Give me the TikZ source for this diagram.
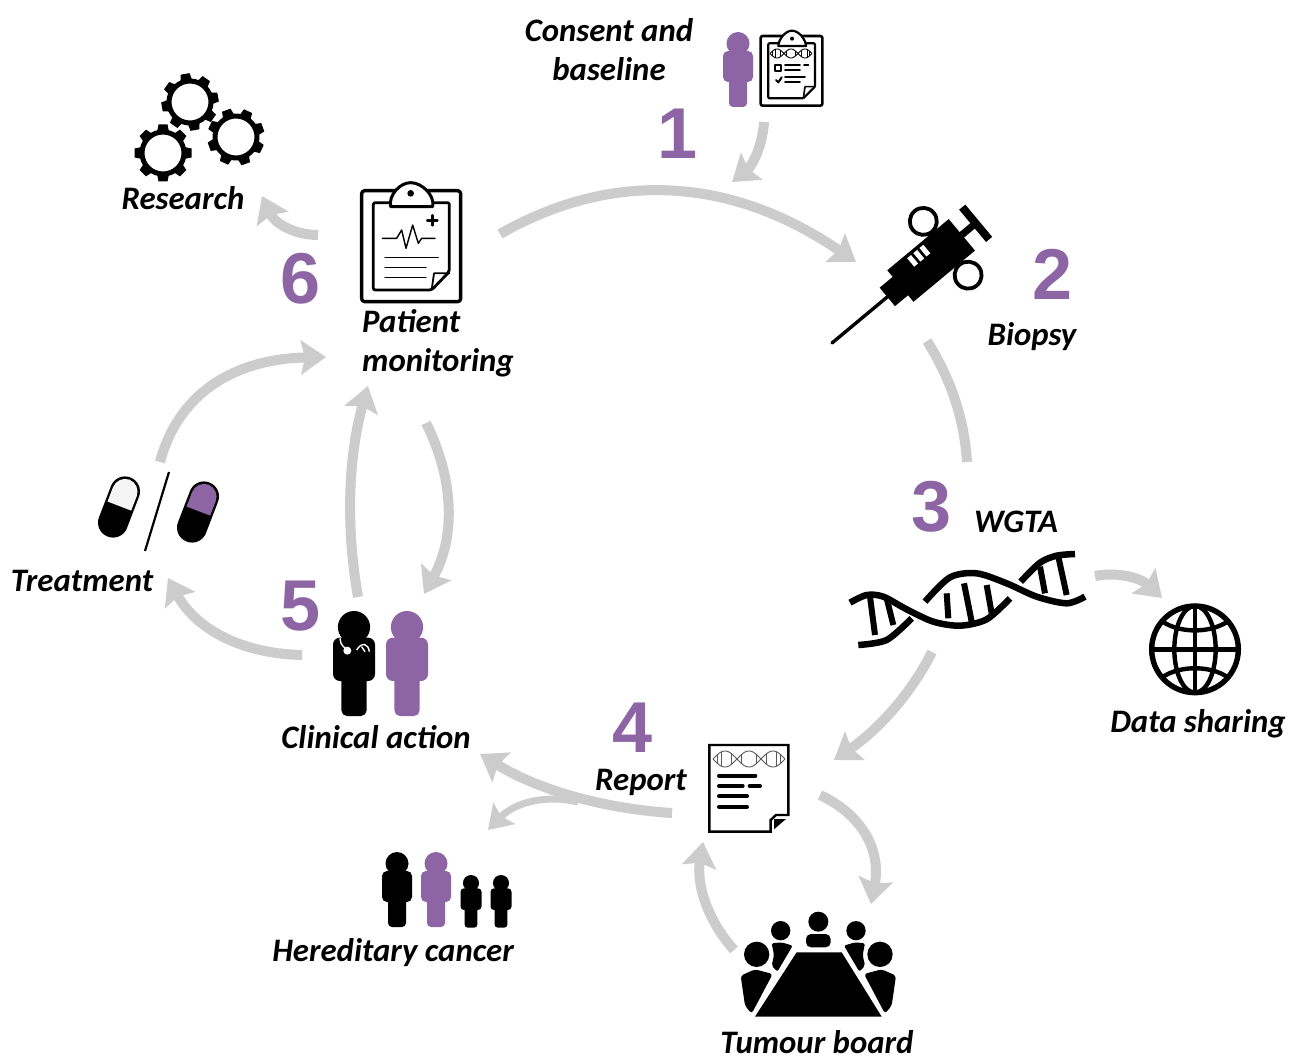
\documentclass[tikz,border=0pt]{standalone}
\usepackage{fontspec}
\setmainfont{Carlito}
\newfontfamily\numfont{Liberation Sans}
\usetikzlibrary{arrows.meta,calc}
\definecolor{plum}{HTML}{8E65A4}
\definecolor{arrowgray}{HTML}{CCCCCC}
\tikzset{
  flow/.style={draw=arrowgray,line width=10pt,-{Stealth[length=25pt,width=34pt,inset=4pt]}},
  flowend/.style={draw=arrowgray,line width=10pt},
  flowthin/.style={draw=arrowgray,line width=7pt,-{Stealth[length=23pt,width=30pt,inset=4pt]}},
  lab/.style={font=\bfseries\itshape\fontsize{32.8}{39}\selectfont,inner sep=0pt,anchor=base},
  num/.style={font=\numfont\bfseries\fontsize{72}{72}\selectfont,text=plum,inner sep=0pt,anchor=base},
  iconline/.style={line width=#1,line cap=round,line join=round},
  iconline/.default=1.5pt
}
\newcommand{\qcurve}[4]{\draw[#1] (#2) .. controls ($(#2)!.667!(#3)$) and ($(#4)!.667!(#3)$) .. (#4);}
\newcommand{\persona}[4]{%
  \begin{scope}[shift={(#1,#2)},scale=#3]
    \fill[#4] (0,11.5) circle (11.5);
    \fill[#4,rounded corners=#3*5pt] (-15,19) rectangle (15,50);
    \fill[#4,rounded corners=#3*4pt] (-9,30) rectangle (9,75);
  \end{scope}}
\newcommand{\cogwheel}[3]{%
  \begin{scope}[shift={(#1,#2)},rotate=#3]
    \draw[line width=5pt] (0,0) circle (21);
    \foreach \a in {0,45,...,315}
      \fill[rotate=\a] (21,-6) -- (28.5,-4.5) -- (28.5,4.5) -- (21,6) -- cycle;
  \end{scope}}
\newcommand{\minihelix}[6]{%
  \draw[line width=#5,color=#6] plot[domain=0:1,samples=60] ({#1+#3*\x},{#2+#4/2*(1+sin(540*\x))});
  \draw[line width=#5,color=#6] plot[domain=0:1,samples=60] ({#1+#3*\x},{#2+#4/2*(1-sin(540*\x))});
  \foreach \t in {.06,.12,.26,.33,.40,.60,.67,.74,.88,.94}
    \draw[line width=#5,color=#6] ({#1+#3*\t},{#2+#4/2*(1+sin(540*\t))}) -- ({#1+#3*\t},{#2+#4/2*(1-sin(540*\t))});}
\newcommand{\capsule}[3]{%
  \begin{scope}[shift={(#1,#2)},rotate=69,scale=1/3]
    \fill[black,rounded corners=14.9pt] (-95,-45) rectangle (95,45);
    \begin{scope}
      \clip (3,-60) rectangle (110,60);
      \fill[#3,rounded corners=13pt] (-95,-38) rectangle (88,38);
    \end{scope}
  \end{scope}}
\begin{document}
\begin{tikzpicture}[x=1pt,y=-1pt]
\useasboundingbox (0,0) rectangle (1290,1059);
\fill[white] (0,0) rectangle (1290,1059);

% ---------- connector ends
\coordinate (a1s) at (764,122);  \coordinate (a1e) at (732,182);
\coordinate (a2s) at (500,234);  \coordinate (a2e) at (856,262);
\coordinate (a3s) at (927,341);  \coordinate (a3e) at (967,462);
\coordinate (a4s) at (932,652);  \coordinate (a4e) at (834,760);
\coordinate (a5s) at (1095,576); \coordinate (a5e) at (1162,598);
\coordinate (a6s) at (820,795);  \coordinate (a6e) at (871,904);
\coordinate (a7s) at (734,950);  \coordinate (a7e) at (703,842);
\coordinate (a8s) at (672,813);  \coordinate (a8e) at (480,754);
\coordinate (a9s) at (578,802);  \coordinate (a9e) at (488,830);
\coordinate (a10s) at (302,655); \coordinate (a10e) at (168,578);
\coordinate (a11s) at (358,597); \coordinate (a11e) at (368,386);
\coordinate (a12s) at (426,423); \coordinate (a12e) at (424,594);
\coordinate (a13s) at (160,462); \coordinate (a13e) at (326,357);
\coordinate (a14s) at (318,235); \coordinate (a14e) at (262,196);

\qcurve{flow}{a1s}{762,158}{a1e}
\qcurve{flow}{a2s}{672,136}{a2e}
\qcurve{flowend}{a3s}{963,398}{a3e}
\qcurve{flow}{a4s}{901,714}{a4e}
\qcurve{flow}{a5s}{1131,569}{a5e}
\qcurve{flow}{a6s}{886,826}{a6e}
\qcurve{flow}{a7s}{693,904}{a7e}
\qcurve{flow}{a8s}{564,806}{a8e}
\qcurve{flowthin}{a9s}{527,790}{a9e}
\qcurve{flow}{a10s}{209,653}{a10e}
\qcurve{flow}{a11s}{339,489}{a11e}
\qcurve{flow}{a12s}{470,511}{a12e}
\qcurve{flow}{a13s}{187,360}{a13e}
\qcurve{flow}{a14s}{280,235}{a14e}

% ---------- consent icon
\persona{738}{32}{1}{plum}
\begin{scope}[shift={(700,20)},scale=1/3]
  \draw[iconline=2.6pt,rounded corners=2pt] (182,48) rectangle (367,257);
  \draw[iconline=2.2pt,rounded corners=1pt] (235,70) -- (205,70) -- (205,235) -- (310,235) -- (345,200) -- (345,70) -- (318,70);
  \draw[iconline=1.6pt] (345,200) -- (315,200) -- (310,235);
  \draw[iconline=2.2pt,fill=white] (235,78) .. controls (235,60) and (255,32) .. (276,32) .. controls (297,32) and (318,60) .. (318,78) -- cycle;
  \fill (276,56) circle (6);
  \draw[iconline=1.8pt] (226,136) rectangle (243,152);
  \draw[iconline=1.8pt] (255,136) -- (300,136) (312,136) -- (325,136) (255,150) -- (300,150) (255,172) -- (315,172) (255,187) -- (300,187);
  \draw[iconline=2pt] (228,180) -- (235,187) -- (245,172);
\end{scope}
\minihelix{770}{49}{42}{9}{0.9pt}{black}

% ---------- patient clipboard
\begin{scope}[shift={(120,60)},scale=1/3]
  \draw[iconline=3.4pt,rounded corners=3pt] (725,392) rectangle (1022,725);
  \draw[iconline=2.8pt,rounded corners=2pt] (815,428) -- (760,428) -- (760,690) -- (935,690) -- (988,635) -- (988,428) -- (935,428);
  \draw[iconline=1.8pt] (988,640) -- (942,640) -- (935,690);
  \draw[iconline=3pt,fill=white] (812,440) .. controls (805,405) and (840,368) .. (872,368) .. controls (905,368) and (945,405) .. (938,440) -- cycle;
  \fill (872,400) circle (10);
  \draw[iconline=2.6pt] (937,466) -- (937,496) (922,482) -- (952,482);
  \draw[iconline=1.4pt] (787,535) -- (830,535) -- (845,510) -- (858,565) -- (878,495) -- (895,550) -- (905,535) -- (945,535);
  \draw[iconline=1.3pt] (795,592) -- (955,592) (795,622) -- (918,622) (795,652) -- (918,652);
\end{scope}

% ---------- gears
\cogwheel{190}{102}{10}
\cogwheel{236}{137}{20}
\cogwheel{163}{153}{0}

% ---------- syringe
\begin{scope}[shift={(832,343)},rotate=39.8]
  \draw[line width=3.4pt,line cap=round] (0,0) -- (75,0);
  \fill (72,-12) rectangle (90,12);
  \fill (89,-20.5) rectangle (169,20.5);
  \fill (168,-3.5) rectangle (187,3.5);
  \fill (183,-21) rectangle (191,21);
  \draw[line width=3.8pt] (148,-35) circle (13.5);
  \draw[line width=3.8pt] (148,35) circle (13.5);
  \fill[white] (112,-17) rectangle (117,-6);
  \fill[white] (120,-17) rectangle (125,-6);
  \fill[white] (128,-17) rectangle (133,-6);
\end{scope}

% ---------- DNA
\begin{scope}[shift={(840,540)},scale=1/3]
  \draw[line width=6.5pt] plot[smooth] coordinates {(30,188) (80,165) (130,170) (200,208) (280,245) (360,257) (440,238) (510,175)};
  \draw[line width=6.5pt] plot[smooth] coordinates {(542,125) (600,68) (650,47) (705,42)};
  \draw[line width=6.5pt] plot[smooth] coordinates {(55,315) (140,300) (215,235)};
  \draw[line width=6.5pt] plot[smooth] coordinates {(255,185) (330,112) (410,100) (500,130) (590,170) (680,190) (735,170)};
  \draw[line width=6pt] (90,170) -- (105,285) (140,175) -- (160,255) (320,160) -- (325,235) (372,130) -- (395,245) (440,135) -- (455,220) (600,80) -- (615,160) (655,50) -- (680,165);
\end{scope}

% ---------- globe
\begin{scope}[shift={(840,540)},scale=1/3]
  \draw[line width=5.4pt] (1065,328) circle (130);
  \draw[line width=4.4pt] (1065,328) ellipse (62 and 130);
  \draw[line width=4.4pt] (1065,198) -- (1065,458) (935,328) -- (1195,328);
  \draw[line width=4.4pt] (968,245) .. controls (1020,280) and (1110,280) .. (1162,245);
  \draw[line width=4.4pt] (968,411) .. controls (1020,376) and (1110,376) .. (1162,411);
\end{scope}

% ---------- report
\begin{scope}[shift={(700,735)},scale=1/3]
  \draw[iconline=2.4pt,line join=miter] (28,30) -- (265,30) -- (265,240) -- (228,240) -- (212,255) -- (212,290) -- (28,290) -- cycle;
  \fill (222,283) -- (258,252) -- (222,252) -- cycle;
  \draw[iconline=4pt] (57,122) -- (166,122) (57,153) -- (128,153) (149,153) -- (180,153) (57,184) -- (141,184) (57,216) -- (141,216);
\end{scope}
\minihelix{713}{751}{72}{16}{0.9pt}{black!65}

% ---------- tumour board
\begin{scope}[shift={(700,735)},scale=1/3]
  \fill (290,652) -- (425,652) -- (545,845) -- (165,845) -- cycle;
  \fill (355,560) circle (30);
  \fill[rounded corners=5pt] (318,637) -- (318,597) -- (392,597) -- (392,637) -- cycle;
  \foreach \s/\o in {1/0,-1/710} {
    \begin{scope}[shift={(\o,0)},xscale=\s]
      \fill (242,587) circle (29);
      \fill[rounded corners=2pt] (215,625) -- (245,622) -- (278,632) -- (232,710) -- (215,692) -- (222,660) -- cycle;
      \fill (170,658) circle (38);
      \fill[rounded corners=3pt] (122,722) -- (165,703) -- (218,717) -- (155,836) -- (135,812) -- cycle;
    \end{scope}
  }
\end{scope}

% ---------- hereditary family
\persona{397}{852}{1}{black}
\persona{436}{852}{1}{plum}
\persona{471}{875}{0.7}{black}
\persona{501}{875}{0.7}{black}

% ---------- clinical action
\persona{354}{611}{1.4}{black}
\persona{407}{611}{1.4}{plum}
\begin{scope}[shift={(90,460)},scale=1/3]
  \draw[white,line width=1.4pt] (750,535) .. controls (750,555) and (765,565) .. (772,570);
  \fill[white] (772,572) circle (12);
  \draw[white,line width=1.4pt] (800,570) .. controls (815,545) and (835,550) .. (838,575) (815,560) -- (825,575);
\end{scope}

% ---------- pills
\capsule{119}{507}{black!4}
\capsule{198}{512}{plum}
\draw[line width=2.2pt] (169,472) -- (145,551);

% ---------- labels
\node[lab,anchor=center,align=center] (consent) at (609,50) {Consent and\\baseline};
\node[lab] (research) at (183,210) {Research};
\node[lab,anchor=west,align=left] (patient) at (362,343) {Patient\\monitoring};
\node[lab] (biopsy) at (1032,345) {Biopsy};
\node[lab] (wgta) at (1016,532) {WGTA};
\node[lab] (sharing) at (1198,732) {Data sharing};
\node[lab] (report) at (641,790) {Report};
\node[lab] (board) at (817,1053) {Tumour board};
\node[lab] (hered) at (393,961) {Hereditary cancer};
\node[lab] (clinical) at (376,748) {Clinical action};
\node[lab] (treat) at (82,591) {Treatment};

\node[num] (n1) at (678,159) {1};
\node[num] (n2) at (1053,299) {2};
\node[num] (n3) at (932,531) {3};
\node[num] (n4) at (633,752) {4};
\node[num] (n5) at (301,630) {5};
\node[num] (n6) at (301,304) {6};
\end{tikzpicture}
\end{document}
